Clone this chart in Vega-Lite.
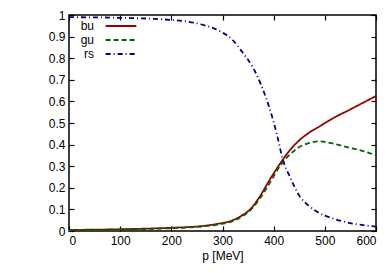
{
  "$schema": "https://vega.github.io/schema/vega-lite/v6.json",
  "width": 307,
  "height": 216,
  "autosize": {"type": "none"},
  "padding": {"left": 69, "top": 15, "right": 14, "bottom": 42},
  "background": "white",
  "config": {
    "font": "Liberation Sans",
    "view": {"stroke": "black", "strokeWidth": 1.5},
    "axis": {"grid": false, "domain": false, "tickColor": "black", "tickSize": -5, "tickWidth": 1.2, "labelFontSize": 12, "labelColor": "black", "titleFontSize": 12, "titleFontWeight": "normal", "titleColor": "black", "labelPadding": 9}
  },
  "data": {"values": [
    {"p": 0, "v": 0.005, "s": "bu"}, {"p": 100, "v": 0.008, "s": "bu"}, {"p": 200, "v": 0.015, "s": "bu"}, {"p": 256, "v": 0.022, "s": "bu"}, {"p": 290, "v": 0.033, "s": "bu"}, {"p": 320, "v": 0.05, "s": "bu"}, {"p": 340, "v": 0.075, "s": "bu"}, {"p": 354, "v": 0.1, "s": "bu"}, {"p": 373, "v": 0.16, "s": "bu"}, {"p": 393, "v": 0.24, "s": "bu"}, {"p": 412, "v": 0.31, "s": "bu"}, {"p": 432, "v": 0.375, "s": "bu"}, {"p": 451, "v": 0.422, "s": "bu"}, {"p": 471, "v": 0.458, "s": "bu"}, {"p": 490, "v": 0.485, "s": "bu"}, {"p": 516, "v": 0.522, "s": "bu"}, {"p": 549, "v": 0.562, "s": "bu"}, {"p": 575, "v": 0.594, "s": "bu"}, {"p": 600, "v": 0.625, "s": "bu"},
    {"p": 0, "v": 0.004, "s": "gu"}, {"p": 100, "v": 0.007, "s": "gu"}, {"p": 200, "v": 0.013, "s": "gu"}, {"p": 256, "v": 0.02, "s": "gu"}, {"p": 290, "v": 0.03, "s": "gu"}, {"p": 320, "v": 0.046, "s": "gu"}, {"p": 340, "v": 0.07, "s": "gu"}, {"p": 354, "v": 0.095, "s": "gu"}, {"p": 373, "v": 0.15, "s": "gu"}, {"p": 393, "v": 0.225, "s": "gu"}, {"p": 412, "v": 0.3, "s": "gu"}, {"p": 432, "v": 0.355, "s": "gu"}, {"p": 451, "v": 0.39, "s": "gu"}, {"p": 471, "v": 0.408, "s": "gu"}, {"p": 490, "v": 0.415, "s": "gu"}, {"p": 516, "v": 0.405, "s": "gu"}, {"p": 549, "v": 0.385, "s": "gu"}, {"p": 575, "v": 0.37, "s": "gu"}, {"p": 600, "v": 0.35, "s": "gu"},
    {"p": 0, "v": 0.99, "s": "rs"}, {"p": 100, "v": 0.987, "s": "rs"}, {"p": 200, "v": 0.977, "s": "rs"}, {"p": 256, "v": 0.958, "s": "rs"}, {"p": 295, "v": 0.925, "s": "rs"}, {"p": 320, "v": 0.884, "s": "rs"}, {"p": 340, "v": 0.824, "s": "rs"}, {"p": 360, "v": 0.755, "s": "rs"}, {"p": 377, "v": 0.667, "s": "rs"}, {"p": 393, "v": 0.56, "s": "rs"}, {"p": 406, "v": 0.45, "s": "rs"}, {"p": 418, "v": 0.33, "s": "rs"}, {"p": 432, "v": 0.25, "s": "rs"}, {"p": 451, "v": 0.16, "s": "rs"}, {"p": 467, "v": 0.12, "s": "rs"}, {"p": 484, "v": 0.09, "s": "rs"}, {"p": 516, "v": 0.058, "s": "rs"}, {"p": 549, "v": 0.037, "s": "rs"}, {"p": 575, "v": 0.027, "s": "rs"}, {"p": 600, "v": 0.02, "s": "rs"}
  ]},
  "layer": [
    {
      "mark": {"type": "line", "strokeWidth": 1.8, "interpolate": "monotone"},
      "encoding": {
        "x": {"field": "p", "type": "quantitative", "scale": {"domain": [0, 600], "nice": false}, "axis": {"values": [0, 100, 200, 300, 400, 500, 600], "title": "p [MeV]", "titlePadding": 4}},
        "y": {"field": "v", "type": "quantitative", "scale": {"domain": [0, 1], "nice": false}, "axis": {"values": [0, 0.1, 0.2, 0.3, 0.4, 0.5, 0.6, 0.7, 0.8, 0.9, 1], "format": "~g", "title": null}},
        "color": {"field": "s", "type": "nominal", "scale": {"domain": ["bu", "gu", "rs"], "range": ["#990000", "#006400", "#00008b"]},
          "legend": {"orient": "none", "legendX": 44.5, "legendY": 3.5, "padding": 0, "title": null, "symbolType": "M-2.36,0H2.36", "symbolSize": 169, "symbolStrokeWidth": 1.8, "symbolFillColor": "transparent", "labelFontSize": 12, "labelColor": "black", "rowPadding": 0, "labelAlign": "right", "labelOffset": -34.5}},
        "strokeDash": {"field": "s", "type": "nominal", "scale": {"domain": ["bu", "gu", "rs"], "range": [[1, 0], [5, 3], [5, 3, 1, 3]]}, "legend": null}
      }
    },
    {
      "mark": {"type": "line", "opacity": 0},
      "encoding": {
        "x": {"field": "p", "type": "quantitative", "axis": {"orient": "top", "values": [0, 100, 200, 300, 400, 500, 600], "labels": false, "title": null}},
        "y": {"field": "v", "type": "quantitative", "axis": {"orient": "right", "values": [0, 0.1, 0.2, 0.3, 0.4, 0.5, 0.6, 0.7, 0.8, 0.9, 1], "labels": false, "title": null}}
      }
    }
  ],
  "resolve": {"axis": {"x": "independent", "y": "independent"}}
}
